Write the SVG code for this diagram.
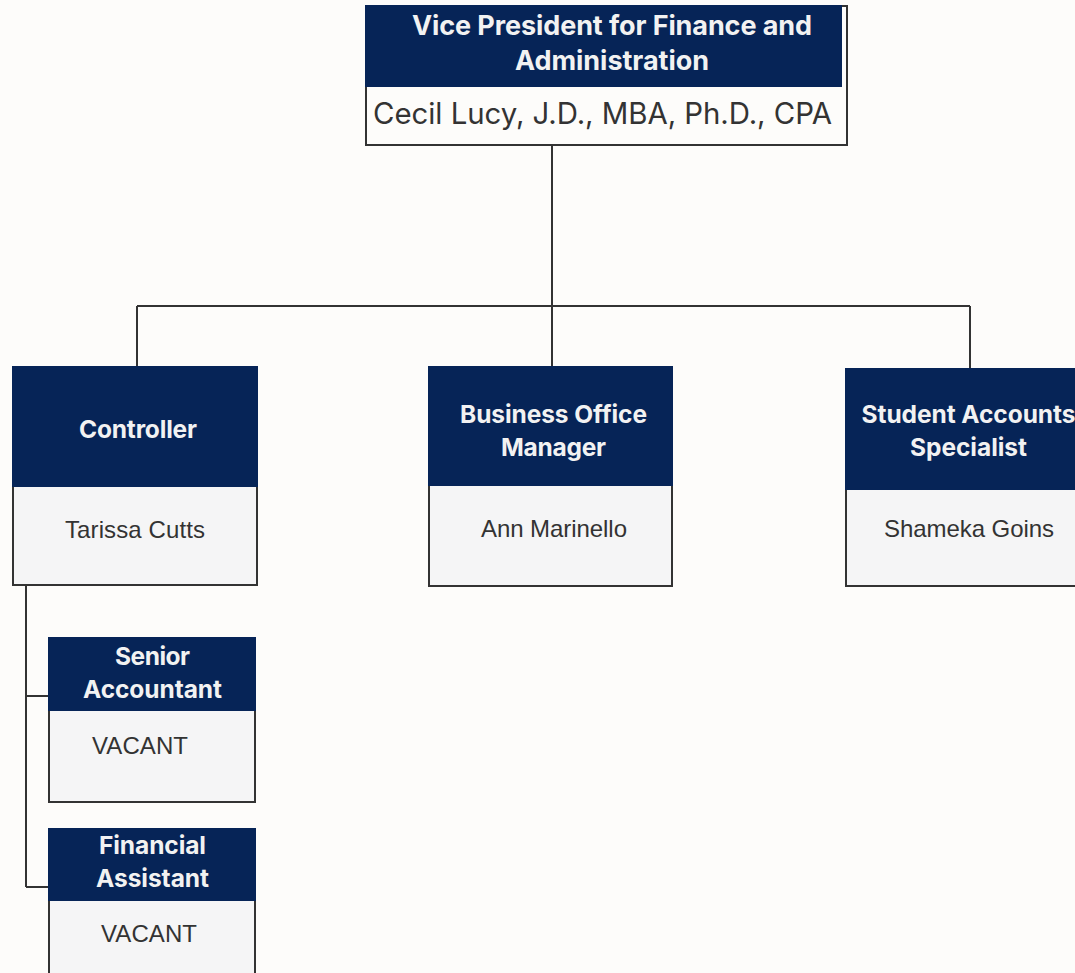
<svg xmlns="http://www.w3.org/2000/svg" width="1075" height="973" viewBox="0 0 1075 973">
<style>
.hdr{fill:#062457}
.body{fill:#F5F5F6;stroke:#333;stroke-width:2}
.t{font-family:Inter,"Liberation Sans",sans-serif;font-weight:bold;fill:#F2F2F2;text-anchor:middle;font-size:24.5px}
.n{font-family:"Liberation Sans",Arial,sans-serif;fill:#333;text-anchor:middle;font-size:24px}
.c{fill:none;stroke:#333;stroke-width:2}
</style>
<rect width="1075" height="973" fill="#FDFCFA"/>
<g id="connectors">
<path class="c" d="M552 145V306M137 306H970M137 306V366M552 306V366M970 306V368"/>
<path class="c" d="M26 586V887M26 696H48M26 887H48"/>
</g>
<g id="vp">
<rect x="366" y="6" width="481" height="139" fill="#FDFCFA" stroke="#333" stroke-width="2"/>
<rect class="hdr" x="365" y="5" width="477" height="82"/>
<text class="t" x="612" y="35" style="font-size:27px" textLength="400">Vice President for Finance and</text>
<text class="t" x="612" y="70" style="font-size:27px" textLength="194">Administration</text>
<text x="602.5" y="124" font-family="Inter,'Liberation Sans',sans-serif" font-size="29.4" fill="#333" text-anchor="middle" textLength="459">Cecil Lucy, J.D., MBA, Ph.D., CPA</text>
</g>
<g id="controller">
<rect class="body" x="13" y="470" width="244" height="115"/>
<rect class="hdr" x="12" y="366" width="246" height="121"/>
<text class="t" x="138" y="438" textLength="118">Controller</text>
<text class="n" x="135" y="538" textLength="140">Tarissa Cutts</text>
</g>
<g id="bom">
<rect class="body" x="429" y="470" width="243" height="116"/>
<rect class="hdr" x="428" y="366" width="245" height="120"/>
<text class="t" x="553.5" y="423" textLength="187">Business Office</text>
<text class="t" x="553.5" y="456" textLength="105">Manager</text>
<text class="n" x="554" y="537" textLength="146">Ann Marinello</text>
</g>
<g id="sas">
<rect class="body" x="846" y="470" width="244" height="116"/>
<rect class="hdr" x="845" y="368" width="246" height="122"/>
<text class="t" x="968.5" y="423" textLength="214">Student Accounts</text>
<text class="t" x="968.5" y="456" textLength="117">Specialist</text>
<text class="n" x="969" y="537" textLength="170">Shameka Goins</text>
</g>
<g id="senior">
<rect class="body" x="49" y="700" width="206" height="102"/>
<rect class="hdr" x="48" y="637" width="208" height="74"/>
<text class="t" x="152.5" y="665" textLength="75">Senior</text>
<text class="t" x="152.5" y="698" textLength="139">Accountant</text>
<text class="n" x="140" y="754" textLength="96">VACANT</text>
</g>
<g id="finassist">
<rect class="body" x="49" y="890" width="206" height="100"/>
<rect class="hdr" x="48" y="828" width="208" height="73"/>
<text class="t" x="152.5" y="854" textLength="107">Financial</text>
<text class="t" x="152.5" y="887" textLength="113">Assistant</text>
<text class="n" x="149" y="942" textLength="96">VACANT</text>
</g>
</svg>
